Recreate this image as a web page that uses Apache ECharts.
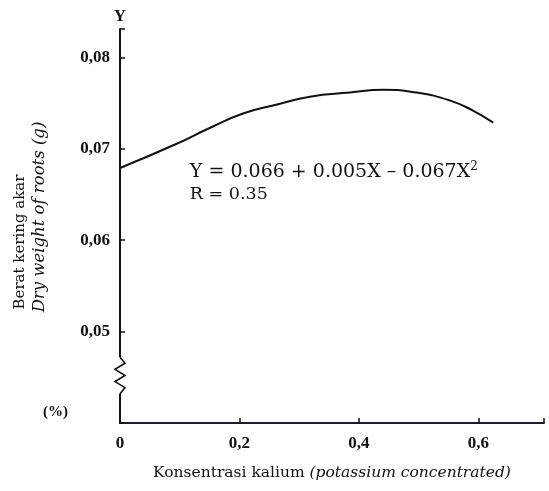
<!DOCTYPE html>
<html><head><meta charset="utf-8">
<script src="https://cdn.jsdelivr.net/npm/echarts@6/dist/echarts.min.js"></script>
<style>html,body{margin:0;padding:0;background:#fff}#c{width:549px;height:491px}</style>
</head><body><div id="c"></div>
<script>
// Data
const xValues = [0, 0.095, 0.151, 0.206, 0.263, 0.318, 0.385, 0.441, 0.497, 0.553, 0.591, 0.625];
const yValues = [0.0679, 0.07055, 0.0723, 0.07385, 0.07484, 0.0757, 0.07615, 0.07645, 0.07615, 0.07527, 0.07418, 0.07286];
const xTickLabels = ['0', '0,2', '0,4', '0,6'];
const yTickLabels = ['0,05', '0,06', '0,07', '0,08'];
const equationText = 'Y = 0.066 + 0.005X \u2013 0.067X';
const rText = 'R = 0.35';

const font = 'Liberation Serif';
const wide = 'DejaVu Serif';
const chart = echarts.init(document.getElementById('c'));
const isTick = (v, step) => Math.abs(v / step - Math.round(v / step)) < 1e-6;
const fmt = v => String(+v.toFixed(2)).replace('.', ',');
chart.setOption({
  animation: false,
  grid: {left: 120, right: 5, top: 29, bottom: 68},
  xAxis: {
    type: 'value', min: 0, max: 0.71, interval: 0.2,
    axisLine: {lineStyle: {color: '#1b1b33', width: 2}},
    axisTick: {inside: true, length: 5, lineStyle: {color: '#111', width: 1.5}},
    splitLine: {show: false},
    axisLabel: {margin: 12, fontFamily: font, fontSize: 17, fontWeight: 'bold', color: '#111',
      formatter: v => { if (!isTick(v, 0.2)) return ''; const s = fmt(v); return xTickLabels.includes(s) ? s : ''; }},
    name: 'Konsentrasi kalium {i|(potassium concentrated)}',
    nameLocation: 'middle', nameGap: 42,
    nameTextStyle: {fontFamily: wide, fontSize: 15.5, color: '#111',
      rich: {i: {fontFamily: wide, fontSize: 15.5, fontStyle: 'italic', color: '#111'}}}
  },
  yAxis: {
    type: 'value', min: 0.04, max: 0.0831, interval: 0.01,
    axisLine: {show: true, lineStyle: {color: '#111', width: 2}},
    axisTick: {show: true, inside: true, length: 5, lineStyle: {color: '#111', width: 1.5}},
    splitLine: {show: false},
    axisLabel: {margin: 10, fontFamily: font, fontSize: 17, fontWeight: 'bold', color: '#111',
      formatter: v => { if (!isTick(v, 0.01)) return ''; const s = fmt(v); return yTickLabels.includes(s) ? s : ''; }},
    name: 'Y', nameLocation: 'end', nameGap: 4,
    nameTextStyle: {fontFamily: font, fontSize: 17, fontWeight: 'bold', color: '#111', align: 'center'}
  },
  series: [{
    type: 'line', smooth: 0.5, symbol: 'none',
    data: xValues.map((x, i) => [x, yValues[i]]),
    lineStyle: {color: '#111', width: 2}
  }]
});

// decorations placed via the axes
const p = (x, y) => chart.convertToPixel({gridIndex: 0}, [x, y]);
const b1 = p(0, 0.0472), b2 = p(0, 0.0432);
const ax = b1[0];
const zig = [];
const n = 6;
for (let k = 0; k <= n; k++) {
  const yy = b1[1] + (b2[1] - b1[1]) * k / n;
  const xx = ax + (k === 0 || k === n ? 0 : (k % 2 ? 5 : -5));
  zig.push([xx, yy]);
}
const eq = p(0.117, 0.0674);
const rp = p(0.117, 0.0650);
const pct = p(0, 0.0412);
chart.setOption({
  graphic: [
    {type: 'rect', shape: {x: ax - 3, y: b1[1], width: 6, height: b2[1] - b1[1]}, style: {fill: '#fff'}, z: 100},
    {type: 'polyline', shape: {points: zig}, style: {stroke: '#111', lineWidth: 1.6, fill: null}, z: 101},
    {type: 'text', x: eq[0], y: eq[1], z: 100,
      style: {text: equationText + '{s|2}', fontFamily: wide, fontSize: 19, fill: '#111', textVerticalAlign: 'middle',
        rich: {s: {fontFamily: wide, fontSize: 12, fill: '#111', verticalAlign: 'top', padding: [0, 0, 12, 0]}}}},
    {type: 'text', x: rp[0], y: rp[1], z: 100,
      style: {text: rText, fontFamily: wide, fontSize: 17.5, fill: '#111', textVerticalAlign: 'middle'}},
    {type: 'text', x: pct[0] - 52, y: pct[1], z: 100,
      style: {text: '(%)', fontFamily: font, fontSize: 15, fontWeight: 'bold', fill: '#111', textAlign: 'right', textVerticalAlign: 'middle'}},
    {type: 'text', x: 20, y: 242, rotation: Math.PI / 2, z: 100,
      style: {text: 'Berat kering akar', fontFamily: wide, fontSize: 15, fill: '#111', textAlign: 'center', textVerticalAlign: 'middle'}},
    {type: 'text', x: 40, y: 217, rotation: Math.PI / 2, z: 100,
      style: {text: 'Dry weight of roots (g)', fontFamily: wide, fontSize: 16.5, fontStyle: 'italic', fill: '#111', textAlign: 'center', textVerticalAlign: 'middle'}}
  ]
});
</script></body></html>
